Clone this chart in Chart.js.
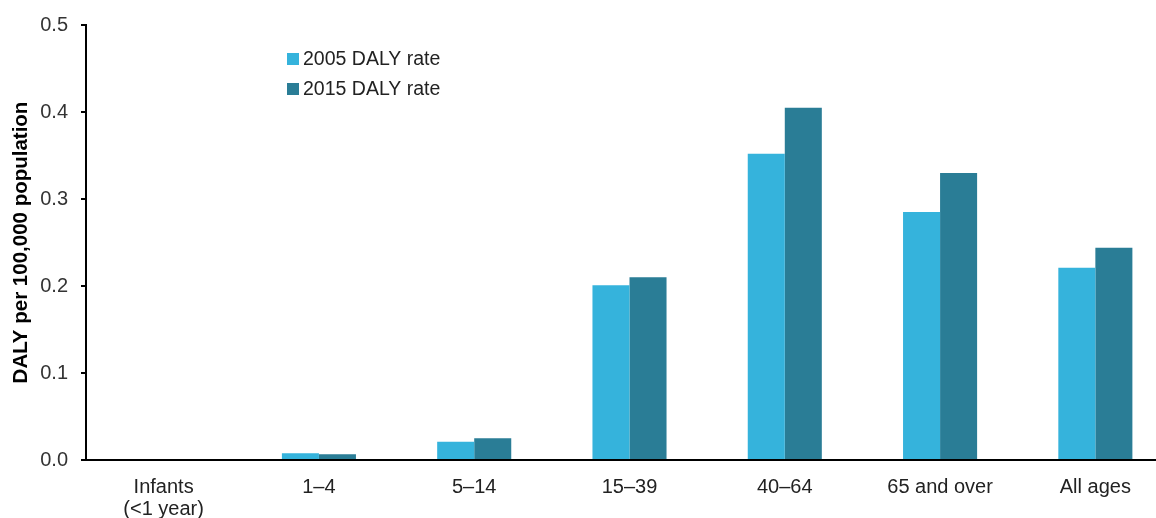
<!DOCTYPE html>
<html>
<head>
<meta charset="utf-8">
<script src="https://cdn.jsdelivr.net/npm/chart.js@4"></script>
<style>
  html, body { margin: 0; padding: 0; background: #fff; overflow: hidden; }
  #wrap { width: 1180px; height: 518px; }
</style>
</head>
<body>
<div id="wrap"><canvas id="grafico" width="1180" height="518"></canvas></div>
<script>
  // age groups on the x axis
  const ageGroups = [['Infants', '(<1 year)'], '1–4', '5–14', '15–39', '40–64', '65 and over', 'All ages'];
  // DALY per 100,000 population
  const rate2005 = [0, 0.0077, 0.021, 0.201, 0.352, 0.285, 0.221];
  const rate2015 = [0, 0.0066, 0.025, 0.210, 0.405, 0.330, 0.244];
  const seriesNames = ['2005 DALY rate', '2015 DALY rate'];
  const yTicks = [0, 0.1, 0.2, 0.3, 0.4, 0.5];

  const fontFam = 'Arial, "Liberation Sans", sans-serif';

  // legend drawn inside the plot, top left
  const insideLegend = {
    id: 'insideLegend',
    afterDraw(chart) {
      const ctx = chart.ctx;
      ctx.save();
      ctx.font = '19.5px ' + fontFam;
      ctx.textBaseline = 'middle';
      chart.data.datasets.forEach((ds, i) => {
        const y = 59 + i * 30;
        ctx.fillStyle = ds.backgroundColor;
        ctx.fillRect(287, y - 6, 12, 12);
        ctx.fillStyle = '#222';
        ctx.fillText(ds.label, 303, y + 1);
      });
      ctx.restore();
    }
  };

  const graph = document.getElementById('grafico');
  const myChart = new Chart(graph, {
    type: 'bar',
    data: {
      labels: ageGroups,
      datasets: [{
        label: seriesNames[0],
        data: rate2005,
        backgroundColor: '#35B3DC'
      },
      {
        label: seriesNames[1],
        data: rate2015,
        backgroundColor: '#2A7D96'
      }]
    },
    options: {
      responsive: false,
      animation: false,
      categoryPercentage: 0.477,
      barPercentage: 1,
      layout: { padding: { top: 25, right: 7, bottom: 0, left: 0 } },
      plugins: {
        legend: { display: false },
        tooltip: { enabled: false }
      },
      scales: {
        x: {
          grid: { display: false },
          border: { display: true, color: '#000', width: 2 },
          ticks: {
            color: '#222',
            font: { family: fontFam, size: 20, lineHeight: 1.08 },
            padding: 9,
            maxRotation: 0,
            autoSkip: false
          },
          afterFit: (scale) => { scale.height = 58; }
        },
        y: {
          min: 0,
          max: 0.5,
          afterBuildTicks: (scale) => { scale.ticks = yTicks.map(v => ({ value: v })); },
          grid: { drawOnChartArea: false, drawTicks: true, tickLength: 5, color: '#000', lineWidth: 2 },
          border: { display: true, color: '#000', width: 2 },
          ticks: {
            color: '#333',
            font: { family: fontFam, size: 20 },
            padding: 13,
            callback: (v) => Number(v).toFixed(1)
          },
          title: {
            display: true,
            text: 'DALY per 100,000 population',
            color: '#000',
            font: { family: fontFam, size: 20.5, weight: 'bold' },
            padding: { top: 9.5, bottom: 0 }
          },
          afterFit: (scale) => { scale.width = 86; }
        }
      }
    },
    plugins: [insideLegend]
  });
</script>
</body>
</html>
